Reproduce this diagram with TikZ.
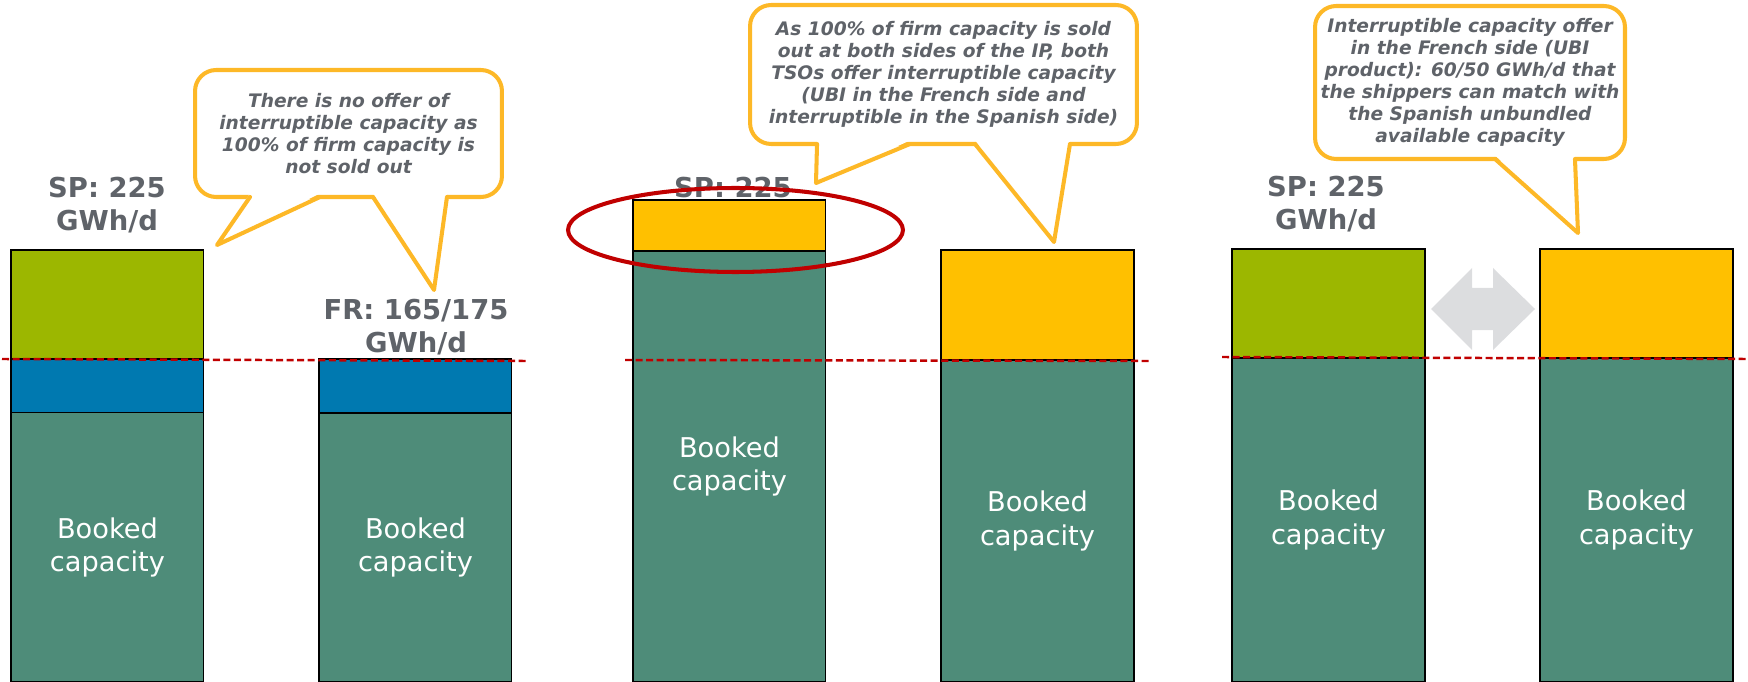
\documentclass[tikz,border=0pt]{standalone}
\usepackage{fontspec}
\setmainfont{DejaVu Sans}
\usetikzlibrary{positioning}
\definecolor{booked}{HTML}{4E8C79}
\definecolor{spgreen}{HTML}{9CB700}
\definecolor{frblue}{HTML}{0079B0}
\definecolor{interr}{HTML}{FFC000}
\definecolor{callout}{HTML}{FDB827}
\definecolor{txtgray}{HTML}{5F6369}
\definecolor{redline}{HTML}{C00000}
\definecolor{arrowgray}{HTML}{DCDDDF}

\begin{document}
\begin{tikzpicture}[x=0.02cm,y=-0.02cm,inner sep=0pt,outer sep=0pt,
seg/.style={draw,line width=0.6pt,minimum width=3.86cm,anchor=north west,text=white,align=center,font=\fontsize{15.5}{19.3}\selectfont},
capvalue/.style={text=txtgray,align=center,font=\fontsize{15.6}{19}\selectfont\bfseries},
bubble/.style={draw=callout,line width=2.3pt,fill=white,rounded corners=12pt,align=center,text=txtgray,font=\fontsize{10.6}{12.6}\selectfont\bfseries\itshape},
tail/.style={draw=callout,line width=2.3pt,line join=round,line cap=round},
cut/.style={draw=redline,line width=1.4pt,dash pattern=on 4pt off 2pt}]

\useasboundingbox (0,0) rectangle (1748,682);

% capacity labels
\node[capvalue] (sp1) at (107,205) {SP: 225\\GWh/d};
\node[capvalue] (fr1) at (416,327) {FR: 165/175\\GWh/d};
\node[capvalue] (sp2) at (733,188) {SP: 225};
\node[capvalue] (sp3) at (1326,204) {SP: 225\\GWh/d};

% case 1
\node[seg,fill=spgreen,minimum height=2.18cm] (g1) at (11,250) {};
\node[seg,fill=frblue,minimum height=1.08cm,below=0pt of g1] (u1) {};
\node[seg,fill=booked,minimum height=5.38cm,below=0pt of u1] (b1) {Booked\\capacity};
\node[seg,fill=frblue,minimum height=1.08cm] (u2) at (319,359) {};
\node[seg,fill=booked,minimum height=5.38cm,below=0pt of u2] (b2) {Booked\\capacity};

% case 2
\node[seg,fill=interr,minimum height=1.02cm] (i3) at (633,200) {};
\node[seg,fill=booked,minimum height=8.62cm,below=0pt of i3] (b3) {Booked\\capacity};
\node[seg,fill=interr,minimum height=2.2cm] (i4) at (941,250) {};
\node[seg,fill=booked,minimum height=6.44cm,below=0pt of i4] (b4) {Booked\\capacity};

% case 3
\node[seg,fill=spgreen,minimum height=2.18cm] (g5) at (1232,249) {};
\node[seg,fill=booked,minimum height=6.48cm,below=0pt of g5] (b5) {Booked\\capacity};
\node[seg,fill=interr,minimum height=2.18cm] (i6) at (1540,249) {};
\node[seg,fill=booked,minimum height=6.48cm,below=0pt of i6] (b6) {Booked\\capacity};

\fill[arrowgray] (1431,309) -- (1472,268) -- (1472,288) -- (1493,288) -- (1493,268) -- (1535,309)
  -- (1493,350) -- (1493,330) -- (1472,330) -- (1472,350) -- cycle;

% firm capacity level
\draw[cut] (2,359) -- (528,361);
\draw[cut] (625,360) -- (1150,361);
\draw[cut] (1222,357) -- (1748,359);

\draw[redline,line width=2.3pt] (735.5,230) ellipse [x radius=3.35cm,y radius=0.84cm];

% callouts
\node[bubble,minimum width=6.14cm,minimum height=2.54cm] (c1) at (348.5,133.5)
  {There is no offer of\\interruptible capacity as\\100\% of firm capacity is\\not sold out};
\fill[white] ([xshift=1.1cm,yshift=2pt]c1.south west) -- (217,245) -- ([xshift=2.5cm,yshift=2pt]c1.south west) -- cycle;
\draw[tail] ([xshift=1.1cm]c1.south west) -- (217,245) -- ([xshift=2.5cm]c1.south west);
\fill[white] ([xshift=3.56cm,yshift=2pt]c1.south west) -- (434,290) -- ([xshift=5.04cm,yshift=2pt]c1.south west) -- cycle;
\draw[tail] ([xshift=3.56cm]c1.south west) -- (434,290) -- ([xshift=5.04cm]c1.south west);

\node[bubble,minimum width=7.74cm,minimum height=2.78cm] (c2) at (943.5,74.5)
  {As 100\% of firm capacity is sold\\out at both sides of the IP, both\\TSOs offer interruptible capacity\\(UBI in the French side and\\interruptible in the Spanish side)};
\fill[white] ([xshift=1.34cm,yshift=2pt]c2.south west) -- (816,183) -- ([xshift=3.2cm,yshift=2pt]c2.south west) -- cycle;
\draw[tail] ([xshift=1.34cm]c2.south west) -- (816,183) -- ([xshift=3.2cm]c2.south west);
\fill[white] ([xshift=4.5cm,yshift=2pt]c2.south west) -- (1054,242) -- ([xshift=6.4cm,yshift=2pt]c2.south west) -- cycle;
\draw[tail] ([xshift=4.5cm]c2.south west) -- (1054,242) -- ([xshift=6.4cm]c2.south west);

\node[bubble,minimum width=6.2cm,minimum height=3.06cm] (c3) at (1470,82.5)
  {Interruptible capacity offer\\in the French side (UBI\\product): 60/50 GWh/d that\\the shippers can match with\\the Spanish unbundled\\available capacity};
\fill[white] ([xshift=3.6cm,yshift=2pt]c3.south west) -- (1578,233) -- ([xshift=5.2cm,yshift=2pt]c3.south west) -- cycle;
\draw[tail] ([xshift=3.6cm]c3.south west) -- (1578,233) -- ([xshift=5.2cm]c3.south west);
\end{tikzpicture}
\end{document}
